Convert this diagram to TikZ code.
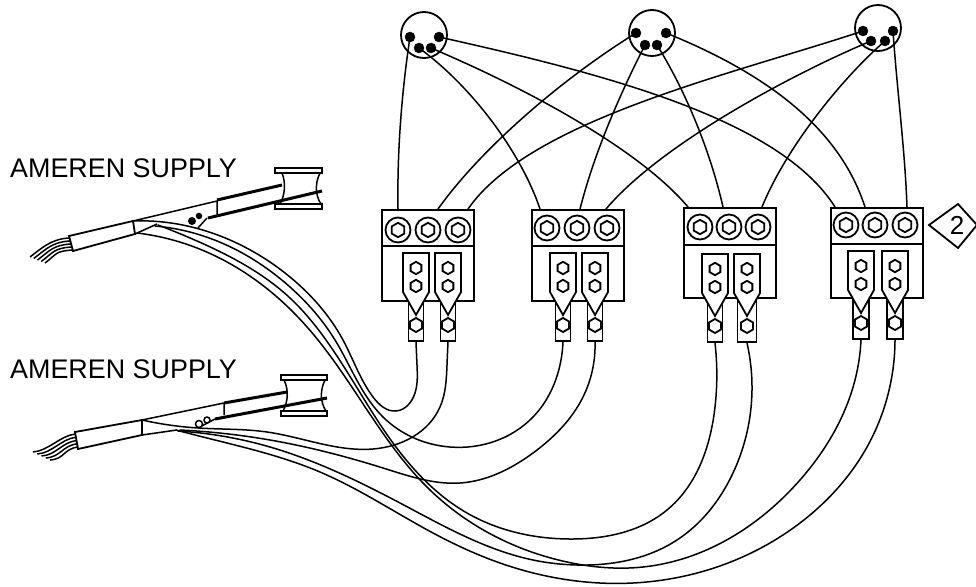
\documentclass[tikz,border=0pt]{standalone}
\usepackage{fontspec}
\setmainfont{Liberation Sans}
\usetikzlibrary{hobby}
\tikzset{
  ln/.style={line width=1.8pt,line join=miter},
  wire/.style={line width=1.5pt,line cap=round},
  thickwire/.style={line width=3pt},
  thinln/.style={line width=1.5pt},
  blockbox/.style={draw,ln,fill=white,rectangle,inner sep=0pt,minimum width=92pt,anchor=north west},
  tubebox/.style={draw,ln,fill=white,rectangle,inner sep=0pt,anchor=south,minimum height=42pt},
  screwhead/.style={draw,ln,fill=white,circle,inner sep=0pt,minimum size=25pt},
  socket/.style={draw,ln,fill=white,circle,inner sep=0pt,minimum size=46pt},
  pinblack/.style={draw,fill=black,circle,inner sep=0pt,minimum size=10pt},
  dotblack/.style={fill=black,circle,inner sep=0pt},
  dotopen/.style={draw,thinln,fill=white,circle,inner sep=0pt},
  lab/.style={font=\fontsize{26.9}{30}\selectfont,anchor=base west,inner sep=0pt},
}
\newcommand{\HexAt}[3]{\draw[ln,fill=white] (#1,#2) +(90:#3) -- +(30:#3) -- +(-30:#3) -- +(-90:#3) -- +(-150:#3) -- +(150:#3) -- cycle;}
\newcommand{\TermBlock}[9]{
  \node[blockbox,minimum height=#4] (#1) at (#2,#3) {};
  \draw[ln] (#2,#5) -- ++(92,0);
  \foreach \sx in {#7,#8,#9}{
    \node[screwhead] at (\sx,#6) {};
    \HexAt{\sx}{#6}{7.2}
  }
}
\newcommand{\LugSet}[4]{
  \node[tubebox,minimum width=#4] (#1) at (#2,#3+89) {};
  \draw[ln,fill=white] (#2-13,#3) -- (#2+13,#3) -- (#2+13,#3+39) -- (#2,#3+62) -- (#2-13,#3+39) -- cycle;
  \HexAt{#2}{#3+15}{6.2}
  \HexAt{#2}{#3+33}{6.2}
  \HexAt{#2}{#3+72}{7}
}
\begin{document}
\begin{tikzpicture}[x=1pt,y=-1pt]
\useasboundingbox (0,0) rectangle (976,586);
\TermBlock{B1}{381}{209}{91}{246}{230}{398}{428}{458}
\TermBlock{B2}{531}{209}{91}{246}{228}{547}{577}{607}
\TermBlock{B3}{683}{207}{90}{245}{227}{700}{729}{758}
\TermBlock{B4}{830}{207}{90}{244}{225}{846}{875}{905}
\LugSet{L1a}{416}{253}{15}
\LugSet{L1b}{448}{253}{15}
\LugSet{L2a}{563}{253}{15}
\LugSet{L2b}{595}{253}{15}
\LugSet{L3a}{715}{254}{15}
\LugSet{L3b}{747}{254}{19}
\LugSet{L4a}{861}{251}{16}
\LugSet{L4b}{895}{251}{16}
\node[socket] (S1) at (424,35) {};
\node[socket] (S2) at (652,33) {};
\node[socket] (S3) at (878,28) {};
\node[pinblack] (p1a) at (410,37) {};
\node[pinblack] (p1b) at (419,48) {};
\node[pinblack] (p1c) at (431,48) {};
\node[pinblack] (p1d) at (439,37) {};
\node[pinblack] (p2a) at (636,33) {};
\node[pinblack] (p2b) at (645,45) {};
\node[pinblack] (p2c) at (657,45) {};
\node[pinblack] (p2d) at (666,33) {};
\node[pinblack] (p3a) at (863,31) {};
\node[pinblack] (p3b) at (871,41) {};
\node[pinblack] (p3c) at (885,41) {};
\node[pinblack] (p3d) at (893,31) {};
\coordinate (e11) at (398,209);
\coordinate (e12) at (438,209);
\coordinate (e13) at (468,209);
\coordinate (e21) at (540,209);
\coordinate (e22) at (580,209);
\coordinate (e23) at (606,209);
\coordinate (e31) at (688,207);
\coordinate (e32) at (723,207);
\coordinate (e33) at (762,207);
\coordinate (e41) at (835,207);
\coordinate (e42) at (865,207);
\coordinate (e43) at (907,207);
\draw[wire] (p1a.center) .. controls (402,90) and (397,150) .. (e11);
\draw[wire] (p2a.center) .. controls (560,80) and (480,150) .. (e12);
\draw[wire] (p3a.center) .. controls (730,75) and (530,120) .. (e13);
\draw[wire] (p1b.center) .. controls (470,85) and (520,150) .. (e21);
\draw[wire] (p2b.center) .. controls (622,90) and (595,150) .. (e22);
\draw[wire] (p3b.center) .. controls (790,75) and (660,145) .. (e23);
\draw[wire] (p1c.center) .. controls (530,90) and (640,150) .. (e31);
\draw[wire] (p2c.center) .. controls (685,90) and (710,150) .. (e32);
\draw[wire] (p3c.center) .. controls (840,80) and (785,150) .. (e33);
\draw[wire] (p1d.center) .. controls (610,75) and (780,120) .. (e41);
\draw[wire] (p2d.center) .. controls (770,75) and (840,130) .. (e42);
\draw[wire] (p3d.center) .. controls (897,90) and (905,150) .. (e43);
\node[lab] (t1) at (10,177) {AMEREN SUPPLY};
\node[lab] (t2) at (10,378) {AMEREN SUPPLY};
\draw[ln] (929,225) -- (958,204) -- (977,225) -- (958,248) -- cycle;
\node[font=\fontsize{26}{30}\selectfont,inner sep=0pt] (n2) at (957,225.5) {2};
% upper clamp
\coordinate (ta) at (133,221);
\coordinate (tb) at (155,226);
\coordinate (tc) at (158,225);
\coordinate (td) at (137,233);
\draw[ln] (69,236) -- (133,221) -- (135,234) -- (73,251) -- cycle;
\draw[thinln] (133,221) -- (217,201) (217,201) -- (217,215);
\draw[thickwire] (217,200) -- (282,185);
\draw[thinln] (135,234) -- (157,224);
\draw[thinln] (207,218) -- (198,228);
\node[dotblack,minimum size=8pt] (d1) at (192,221) {};
\node[dotblack,minimum size=6.5pt] (d2) at (199,216) {};
\draw[ln] (275,168) rectangle (322,173);
\draw[ln] (275,204) rectangle (322,209);
\draw[thinln] (282,173) .. controls (286,183) and (285,195) .. (280,204);
\draw[thinln] (320,173) .. controls (315,183) and (315,195) .. (321,204);
\draw[thickwire] (208,218) -- (322,191);
\foreach \t in {0,.25,.5,.75,1}{
  \pgfmathsetmacro\sxa{69+4*\t}\pgfmathsetmacro\sya{238+12*\t}
  \pgfmathsetmacro\exa{30+15*\t}\pgfmathsetmacro\eya{257+6*\t}
  \draw[thinln] (\sxa,\sya) .. controls (\sxa-18,\sya+1) and (\exa+12,\eya-9) .. (\exa,\eya);
}
% lower clamp
\coordinate (la) at (142,420);
\coordinate (lb) at (180,430);
\coordinate (lc) at (178,431);
\coordinate (ld) at (176,430);
\draw[ln] (75,432) -- (142,420) -- (142,435) -- (78,449) -- cycle;
\draw[thinln] (142,420) -- (224,403) (224,403) -- (224,415);
\draw[thickwire] (224,403) -- (287,392);
\draw[thinln] (142,435) -- (177,430);
\draw[thinln] (215,419) -- (198,428);
\node[dotopen,minimum size=7pt] (d3) at (199,424) {};
\node[dotopen,minimum size=6pt] (d4) at (207,420) {};
\draw[ln] (281,375) rectangle (327,380);
\draw[ln] (281,411) rectangle (327,416);
\draw[thinln] (284,380) .. controls (289,390) and (288,402) .. (283,411);
\draw[thinln] (325,380) .. controls (320,390) and (320,402) .. (326,411);
\draw[thickwire] (215,419) -- (327,398);
\foreach \t in {0,.25,.5,.75,1}{
  \pgfmathsetmacro\sxa{75+3*\t}\pgfmathsetmacro\sya{434+13*\t}
  \pgfmathsetmacro\exa{33+17*\t}\pgfmathsetmacro\eya{452+8*\t}
  \draw[thinln] (\sxa,\sya) .. controls (\sxa-15,\sya+2) and (\exa+15,\eya-1) .. (\exa,\eya);
}
% cables
\begin{scope}[wire,use Hobby shortcut]
\draw (ta) .. (163,222) .. (230,240) .. (290,277) .. (343,340) .. (373,397) .. (396,411) .. (415,393) .. (417,365) .. (L1a.south);
\draw (tb) .. (197,234) .. (290,287) .. (335,340) .. (383,417) .. (450,447) .. (533,417) .. (560,365) .. (L2a.south);
\draw (tc) .. (197,241) .. (290,298) .. (326,340) .. (393,443) .. (467,513) .. (573,539) .. (667,510) .. (715,407) .. (L3a.south);
\draw (td) .. (197,248) .. (290,309) .. (318,340) .. (430,490) .. (567,562) .. (643,567) .. (800,480) .. (855,380) .. (L4a.south);
\draw (la) .. (198,428) .. (267,432) .. (373,449) .. (440,407) .. (447,365) .. (L1b.south);
\draw (lb) .. (270,440) .. (383,468) .. (460,483) .. (533,453) .. (583,397) .. (L2b.south);
\draw (lc) .. (270,447) .. (400,503) .. (533,560) .. (577,565) .. (677,540) .. (733,473) .. (752,390) .. (L3b.south);
\draw (ld) .. (203,437) .. (320,472) .. (433,533) .. (500,563) .. (633,583) .. (800,523) .. (867,447) .. (L4b.south);
\end{scope}
\end{tikzpicture}
\end{document}
